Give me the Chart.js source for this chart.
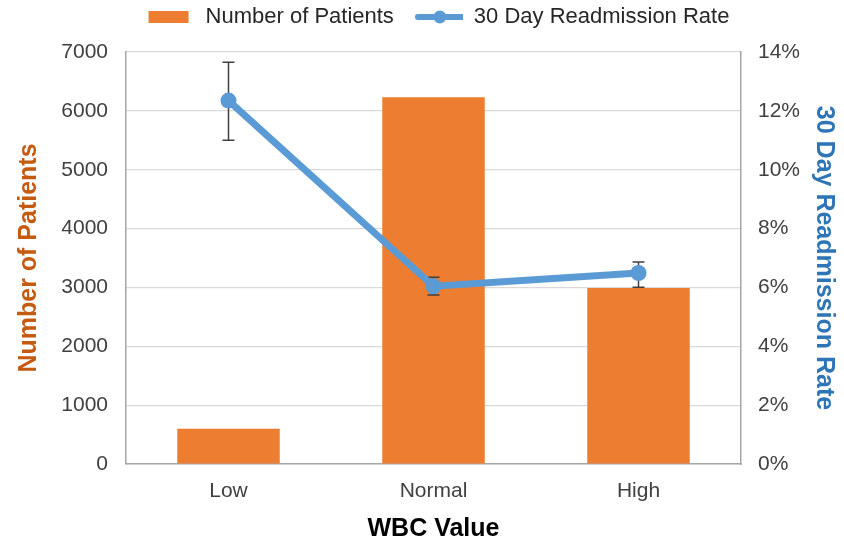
<!DOCTYPE html>
<html>
<head>
<meta charset="utf-8">
<script src="https://cdn.jsdelivr.net/npm/chart.js@4"></script>
<style>
  html, body { margin: 0; padding: 0; background: #fff; }
  #wrap { width: 844px; height: 545px; }
</style>
</head>
<body>
<div id="wrap"><canvas id="chart"></canvas></div>
<script>
// data
const categories = ["Low", "Normal", "High"];
const patients = [600, 6230, 2990];
const readmitRate = [0.1235, 0.0604, 0.0649];
const rateLow = [0.110, 0.0574, 0.0601];
const rateHigh = [0.1365, 0.0635, 0.0686];

const ORANGE = "#ED7D31";
const BLUE = "#5B9BD5";
const FONT = "'Liberation Sans', Arial, sans-serif";

// legend swatches
function swatch(kind) {
  const c = document.createElement("canvas");
  c.width = 48; c.height = 18;
  const g = c.getContext("2d");
  if (kind === "bar") {
    g.fillStyle = ORANGE;
    g.fillRect(2, 3, 40, 12);
  } else {
    g.strokeStyle = BLUE; g.lineWidth = 6; g.lineCap = "round";
    g.beginPath(); g.moveTo(3, 9); g.lineTo(47, 9); g.stroke();
    g.fillStyle = BLUE;
    g.beginPath(); g.arc(25, 9, 6.5, 0, Math.PI * 2); g.fill();
  }
  return c;
}

// error bars, drawn just before the line so the line sits on top
const errorBars = {
  id: "errorBars",
  beforeDatasetDraw(chart, args) {
    if (args.index !== 1) return;
    const meta = chart.getDatasetMeta(1);
    const y = chart.scales.y2;
    const ctx = chart.ctx;
    ctx.save();
    ctx.strokeStyle = "#404040";
    ctx.lineWidth = 1.5;
    meta.data.forEach((pt, i) => {
      const yt = y.getPixelForValue(rateHigh[i]);
      const yb = y.getPixelForValue(rateLow[i]);
      ctx.beginPath();
      ctx.moveTo(pt.x, yt); ctx.lineTo(pt.x, yb);
      ctx.moveTo(pt.x - 6, yt); ctx.lineTo(pt.x + 6, yt);
      ctx.moveTo(pt.x - 6, yb); ctx.lineTo(pt.x + 6, yb);
      ctx.stroke();
    });
    ctx.restore();
  }
};

// nudge the legend: more room below it, shifted right like the original
const legendTweak = {
  id: "legendTweak",
  afterInit(chart) {
    const lg = chart.legend;
    const fit = lg.fit;
    lg.fit = function () { fit.call(this); this.height += 14; };
    const draw = lg.draw;
    lg.draw = function () {
      const ctx = this.ctx;
      ctx.save(); ctx.translate(16, 0);
      draw.call(this);
      ctx.restore();
    };
  }
};

new Chart(document.getElementById("chart"), {
  type: "bar",
  data: {
    labels: categories,
    datasets: [
      {
        label: "Number of Patients",
        data: patients,
        backgroundColor: ORANGE,
        yAxisID: "y",
        barPercentage: 0.5,
        categoryPercentage: 1,
        order: 2
      },
      {
        type: "line",
        label: "30 Day Readmission Rate",
        data: readmitRate,
        borderColor: BLUE,
        backgroundColor: BLUE,
        borderWidth: 7,
        pointRadius: 8,
        pointHoverRadius: 8,
        pointBackgroundColor: BLUE,
        pointBorderWidth: 0,
        tension: 0,
        yAxisID: "y2",
        order: 1
      }
    ]
  },
  options: {
    responsive: true,
    maintainAspectRatio: false,
    animation: false,
    layout: { padding: { left: 0, right: 0, top: -15, bottom: 0 } },
    plugins: {
      tooltip: { enabled: false },
      legend: {
        position: "top",
        labels: {
          usePointStyle: true,
          pointStyleWidth: 48,
          padding: 21,
          color: "#262626",
          font: { family: FONT, size: 22 },
          generateLabels: () => [
            { text: "Number of Patients", pointStyle: swatch("bar"), datasetIndex: 0, lineWidth: 0, fontColor: "#262626" },
            { text: "30 Day Readmission Rate", pointStyle: swatch("line"), datasetIndex: 1, lineWidth: 0, fontColor: "#262626" }
          ]
        }
      }
    },
    scales: {
      x: {
        afterFit: s => { s.height = 81; },
        grid: { display: false, drawTicks: false },
        border: { color: "#A6A6A6", width: 1.5 },
        ticks: { color: "#404040", font: { family: FONT, size: 21 }, padding: 15 },
        title: {
          display: true, text: "WBC Value", color: "#000",
          font: { family: FONT, size: 25, weight: "bold" }, padding: { bottom: 1 }
        }
      },
      y: {
        position: "left",
        min: 0, max: 7000,
        afterFit: s => { s.width = 126; },
        ticks: {
          stepSize: 1000, color: "#404040", font: { family: FONT, size: 21 }, padding: 18,
          callback: v => String(v)
        },
        grid: { color: "#D9D9D9", lineWidth: 1.2, drawTicks: false },
        border: { color: "#A6A6A6", width: 1.5 },
        title: {
          display: true, text: "Number of Patients", color: "#C55A11",
          font: { family: FONT, size: 25, weight: "bold" }, padding: { top: 14 }
        }
      },
      y2: {
        position: "right",
        min: 0, max: 0.14,
        afterFit: s => { s.width = 103; },
        ticks: {
          stepSize: 0.02, color: "#404040", font: { family: FONT, size: 21 }, padding: 17,
          callback: v => Math.round(v * 100) + "%"
        },
        grid: { display: false, drawTicks: false },
        border: { color: "#A6A6A6", width: 1.5 },
        title: {
          display: true, text: "30 Day Readmission Rate", color: "#2E75B6",
          font: { family: FONT, size: 25, weight: "bold" }, padding: { top: 5 }
        }
      }
    }
  },
  plugins: [errorBars, legendTweak]
});
</script>
</body>
</html>
